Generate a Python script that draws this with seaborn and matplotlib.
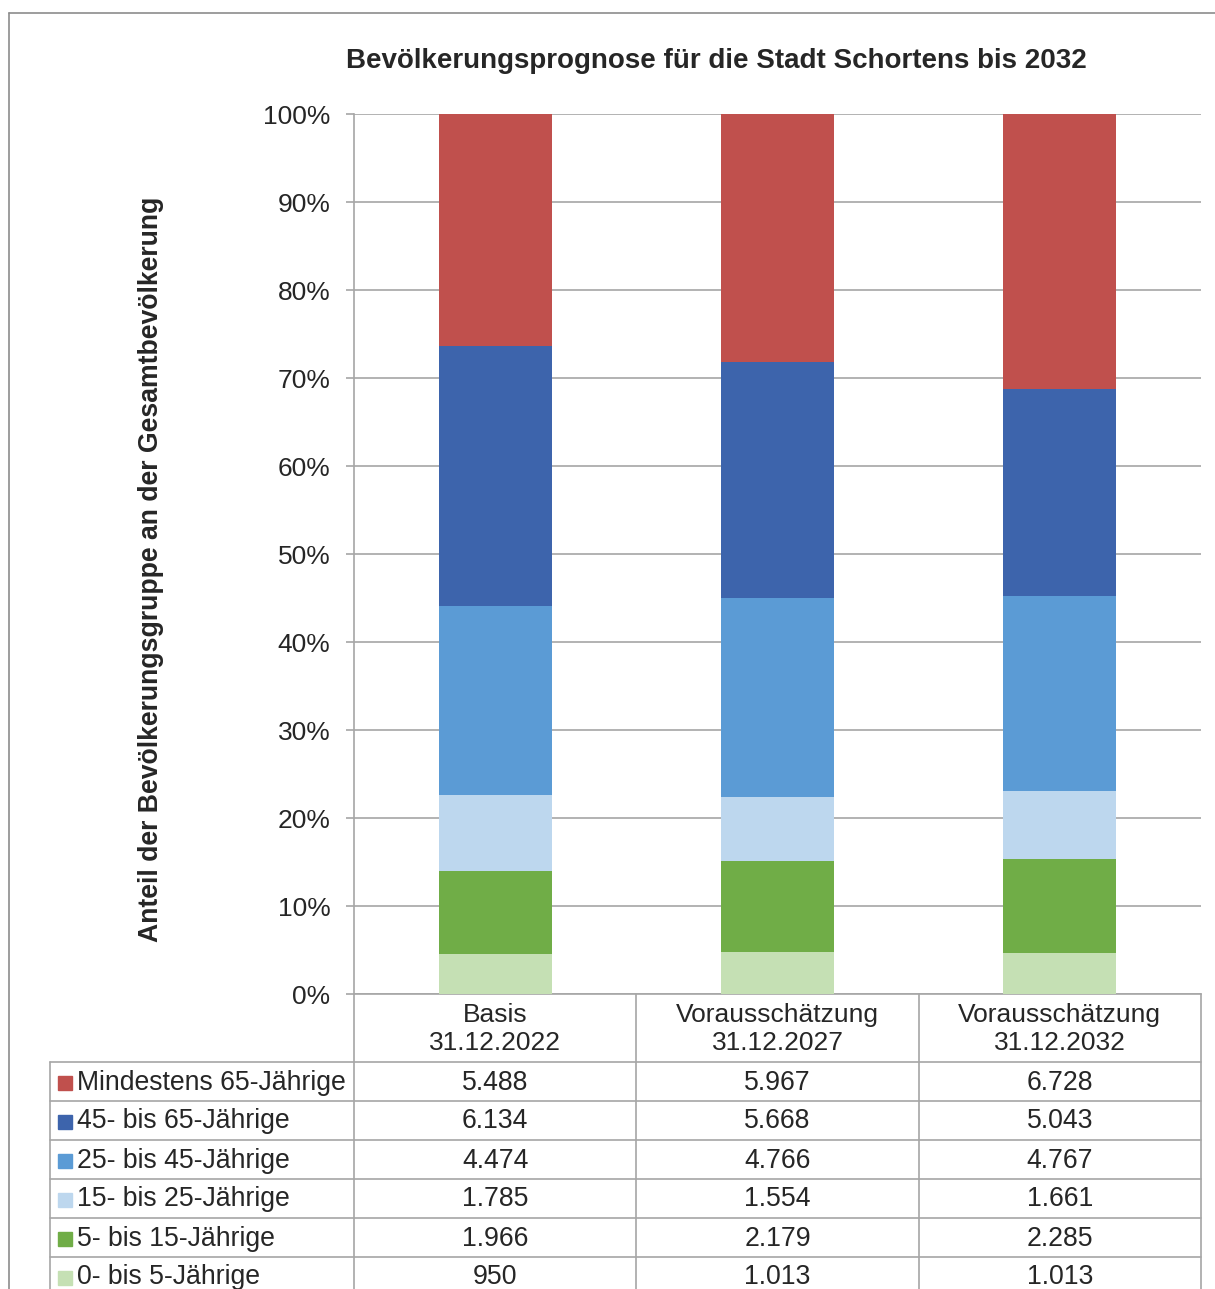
import matplotlib.pyplot as plt
import matplotlib.transforms as mtransforms
import seaborn as sns
import numpy as np

perioden = ['Basis\n31.12.2022', 'Vorausschätzung\n31.12.2027', 'Vorausschätzung\n31.12.2032']
gruppen = ['Mindestens 65-Jährige', '45- bis 65-Jährige', '25- bis 45-Jährige',
           '15- bis 25-Jährige', '5- bis 15-Jährige', '0- bis 5-Jährige']
ab_65 = [5488, 5967, 6728]
von_45_65 = [6134, 5668, 5043]
von_25_45 = [4474, 4766, 4767]
von_15_25 = [1785, 1554, 1661]
von_5_15 = [1966, 2179, 2285]
von_0_5 = [950, 1013, 1013]
farben = ['#C0504D', '#3D64AC', '#5B9BD5', '#BDD7EE', '#70AD47', '#C5E0B4']

werte = np.array([ab_65, von_45_65, von_25_45, von_15_25, von_5_15, von_0_5], dtype=float)
anteile = werte / werte.sum(axis=0) * 100
# cumulative from bottom group upwards
kum = np.cumsum(anteile[::-1], axis=0)[::-1]

sns.set_style('white')
plt.rcParams['font.family'] = ['Liberation Sans', 'DejaVu Sans']

W, H = 1215, 1289
fig = plt.figure(figsize=(W / 100, H / 100), dpi=100)

def fy(px):
    return 1 - px / H

def fx(px):
    return px / W

ax = fig.add_axes([fx(354), fy(994), fx(1201) - fx(354), fy(114) - fy(994)])

# Stacked bars: draw the tallest cumulative layer first
for i in range(len(gruppen)):
    sns.barplot(x=perioden, y=kum[i], color=farben[i], width=0.4, saturation=1,
                linewidth=0, ax=ax, zorder=3)

ax.set_xlim(-0.5, 2.5)
ax.set_ylim(0, 100)
ax.set_yticks(np.arange(0, 101, 10))
ax.set_yticklabels([f'{t}%' for t in range(0, 101, 10)], fontsize=19)
ax.set_xticks([])
ax.set_xlabel('')
ax.set_ylabel('')
ax.grid(axis='y', color='#A6A6A6', linewidth=1.2, zorder=0)
ax.set_axisbelow(True)
for s in ['top', 'right']:
    ax.spines[s].set_visible(False)
ax.spines['left'].set_color('#A6A6A6')
ax.spines['bottom'].set_color('#A6A6A6')
ax.spines['left'].set_linewidth(1.2)
ax.spines['bottom'].set_linewidth(1.2)
ax.tick_params(axis='y', left=True, length=6, width=1.2, color='#A6A6A6', pad=11)

# Title and y label
fig.text(fx(716), fy(61), 'Bevölkerungsprognose für die Stadt Schortens bis 2032',
         ha='center', va='center', fontsize=20, fontweight='bold')
fig.text(fx(151), fy(569), 'Anteil der Bevölkerungsgruppe an der Gesamtbevölkerung',
         ha='center', va='center', rotation=90, fontsize=19.2, fontweight='bold')

# Data table below the axes
lc = '#A6A6A6'
trans = mtransforms.blended_transform_factory(ax.transData, fig.transFigure)
kopf_unten = 1062
zeile = 39
grenzen = [-0.5, 0.5, 1.5, 2.5]

for xb in grenzen:
    ax.plot([xb, xb], [fy(994), fy(H + 10)], color=lc, lw=1.2, transform=trans, clip_on=False)
for k in range(len(gruppen) + 1):
    yy = fy(kopf_unten + k * zeile)
    fig.add_artist(plt.Line2D([fx(50), fx(1201)], [yy, yy], color=lc, lw=1.2))
fig.add_artist(plt.Line2D([fx(50), fx(50)], [fy(kopf_unten), fy(H + 10)], color=lc, lw=1.2))

for j, p in enumerate(perioden):
    ax.text(j, fy(1029), p, transform=trans, ha='center', va='center', fontsize=19,
            linespacing=1.22)

for k, g in enumerate(gruppen):
    ymid = fy(kopf_unten + k * zeile + zeile / 2 + 1)
    fig.patches.append(plt.Rectangle((fx(58), ymid - 7 / H), 14 / W, 14 / H,
                                     color=farben[k], transform=fig.transFigure, figure=fig))
    fig.text(fx(77), ymid, g, ha='left', va='center', fontsize=19.2)
    for j in range(len(perioden)):
        v = int(werte[k, j])
        txt = f'{v:,}'.replace(',', '.')
        ax.text(j, ymid, txt, transform=trans, ha='center', va='center', fontsize=19.2)

# Outer chart frame
fig.add_artist(plt.Line2D([fx(9), fx(9)], [fy(13), 0], color='#8C8C8C', lw=1.2))
fig.add_artist(plt.Line2D([fx(9), 1], [fy(13), fy(13)], color='#8C8C8C', lw=1.2))

fig.savefig('out.png', dpi=100)
